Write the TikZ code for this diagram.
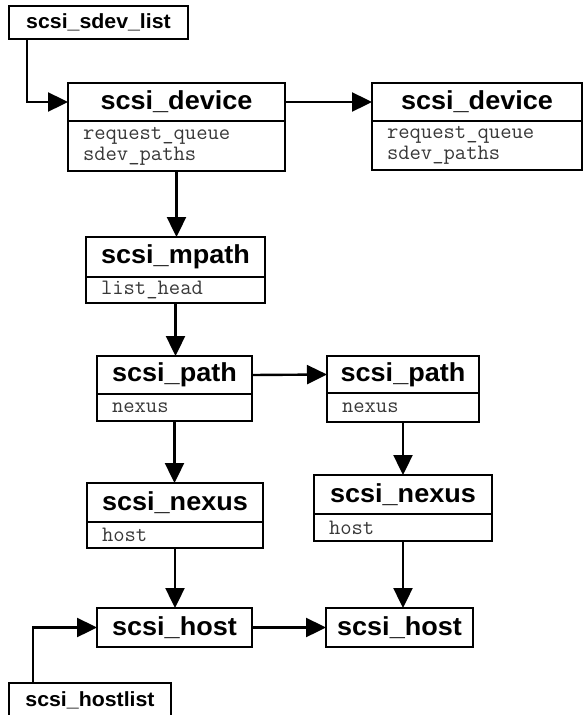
\documentclass[tikz,border=0pt]{standalone}
\usepackage{fontspec}
\usetikzlibrary{arrows.meta,positioning}
\newfontfamily\hdrfont{Liberation Sans}[FakeStretch=1.04]
\definecolor{fldgray}{gray}{0.22}
\tikzset{
  hdr/.style={draw, line width=2.4pt, anchor=north west, inner sep=0pt, outer sep=0pt,
    font=\hdrfont\bfseries\fontsize{26}{28}\selectfont},
  lst/.style={hdr, font=\hdrfont\bfseries\fontsize{20.5}{22}\selectfont},
  fld/.style={draw, line width=2.4pt, inner xsep=15pt, inner ysep=0pt, outer sep=0pt,
    align=left, text=fldgray,
    font=\ttfamily\addfontfeatures{FakeStretch=1.1}\fontsize{22}{21}\selectfont},
  ptr/.style={-{Triangle[length=20pt,width=19pt]}, line width=2.4pt}
}

\begin{document}
\begin{tikzpicture}[x=1pt,y=-1pt]
  \useasboundingbox (0,0) rectangle (583,715);
  % list heads
  \node[lst, minimum width=179pt, minimum height=33pt] (sdevlist) at (9,6) {scsi\_sdev\_list};
  \node[lst, minimum width=162pt, minimum height=35pt] (hostlist) at (9,683) {scsi\_hostlist};
  % devices
  \node[hdr, minimum width=217pt, minimum height=38pt] (dev1) at (68,83) {scsi\_device};
  \node[fld, text width=187pt, minimum height=50pt, below=0pt of dev1] (dev1f) {request\_queue\\sdev\_paths};
  \node[hdr, minimum width=210pt, minimum height=38pt] (dev2) at (372,83) {scsi\_device};
  \node[fld, text width=180pt, minimum height=49pt, below=0pt of dev2] (dev2f) {request\_queue\\sdev\_paths};
  % mpath
  \node[hdr, minimum width=179pt, minimum height=40pt] (mpath) at (86,237) {scsi\_mpath};
  \node[fld, text width=149pt, minimum height=26pt, below=0pt of mpath] (mpathf) {list\_head};
  % paths
  \node[hdr, minimum width=155pt, minimum height=38pt] (path1) at (97,356) {scsi\_path};
  \node[fld, text width=125pt, minimum height=27pt, below=0pt of path1] (path1f) {nexus};
  \node[hdr, minimum width=152pt, minimum height=37pt] (path2) at (327,356) {scsi\_path};
  \node[fld, text width=122pt, minimum height=29pt, below=0pt of path2] (path2f) {nexus};
  % nexus
  \node[hdr, minimum width=176pt, minimum height=39pt] (nexus1) at (87,483) {scsi\_nexus};
  \node[fld, text width=146pt, minimum height=26pt, below=0pt of nexus1] (nexus1f) {host};
  \node[hdr, minimum width=178pt, minimum height=39pt] (nexus2) at (314,475) {scsi\_nexus};
  \node[fld, text width=148pt, minimum height=27pt, below=0pt of nexus2] (nexus2f) {host};
  % hosts
  \node[hdr, minimum width=155pt, minimum height=39pt] (host1) at (97,608) {scsi\_host};
  \node[hdr, minimum width=147pt, minimum height=39pt] (host2) at (326,608) {scsi\_host};

  \draw[ptr] ([xshift=18pt]sdevlist.south west) |- (dev1.west);
  \draw[ptr] (dev1.east) -- (dev2.west);
  \draw[ptr] (dev1f.south) -- (dev1f.south |- mpath.north);
  \draw[ptr] (mpathf.south) -- (mpathf.south |- path1.north);
  \draw[ptr] (path1.east) -- (path2.west);
  \draw[ptr] (path1f.south) -- (path1f.south |- nexus1.north);
  \draw[ptr] (path2f.south) -- (path2f.south |- nexus2.north);
  \draw[ptr] (nexus1f.south) -- (nexus1f.south |- host1.north);
  \draw[ptr] (nexus2f.south) -- (nexus2f.south |- host2.north);
  \draw[ptr] (host1.east) -- (host2.west);
  \draw[ptr] ([xshift=24pt]hostlist.north west) |- (host1.west);
\end{tikzpicture}
\end{document}
